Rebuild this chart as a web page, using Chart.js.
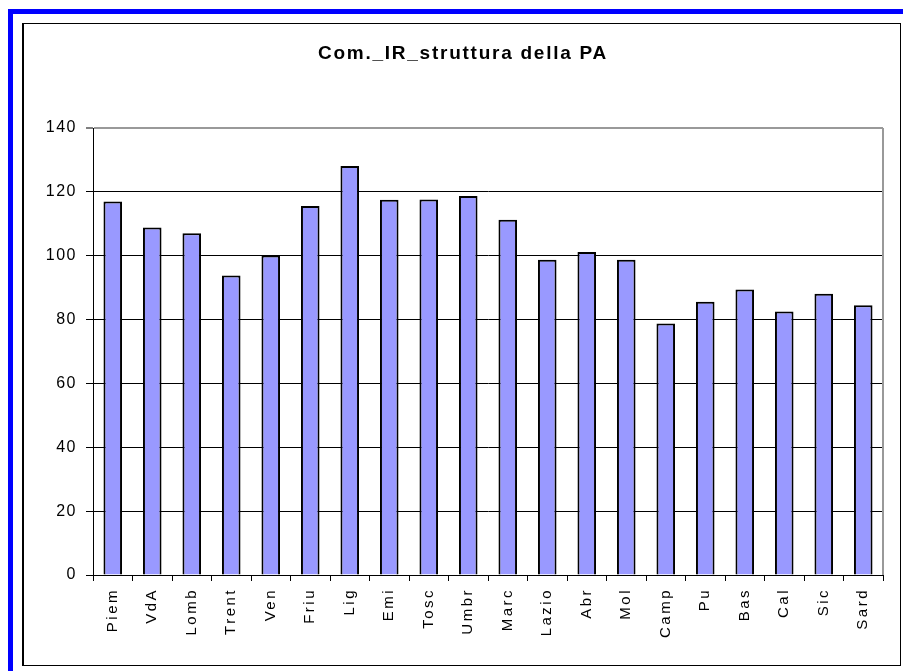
<!DOCTYPE html>
<html>
<head>
<meta charset="utf-8">
<script src="https://cdn.jsdelivr.net/npm/chart.js@4.4.1/dist/chart.umd.min.js"></script>
<style>
    body { margin: 0; background: #fff; }
    #blue { position: absolute; left: 8px; top: 9px; width: 895px; height: 662px;
            border-left: 5px solid #0000ff; border-top: 5px solid #0000ff; box-sizing: border-box; }
    #frame { position: absolute; left: 22px; top: 23px; width: 879px; height: 643px;
             border: 1px solid #000; border-left-width: 2px; box-sizing: border-box; }
    canvas { position: absolute; left: 0; top: 0; }
</style>
</head>
<body>
<div id="blue"></div>
<div id="frame"></div>
<canvas id="chart" width="903" height="671"></canvas>
<script>
const regions = ["Piem", "VdA", "Lomb", "Trent", "Ven", "Friu", "Lig", "Emi", "Tosc", "Umbr",
                 "Marc", "Lazio", "Abr", "Mol", "Camp", "Pu", "Bas", "Cal", "Sic", "Sard"];
const values = [117, 108.8, 107, 93.8, 100.1, 115.6, 128.1, 117.5, 117.6, 118.7,
                111.3, 98.7, 101.2, 98.7, 78.8, 85.6, 89.4, 82.5, 88.1, 84.5];
const yTicks = [0, 20, 40, 60, 80, 100, 120, 140];

const FONT = 'Liberation Sans, Arial, sans-serif';

// draw a box's text with some letter spacing (the original text is wider than Arial)
function spaced(obj, method, spacing) {
    if (!obj || obj['_sp_' + method]) return;
    const orig = obj[method];
    obj[method] = function (...args) {
        const c = this.ctx;
        const prev = c.letterSpacing;
        c.letterSpacing = spacing;
        orig.apply(this, args);
        c.letterSpacing = prev;
    };
    obj['_sp_' + method] = true;
}

const excelLook = {
    id: 'excelLook',
    afterLayout(chart) {
        spaced(chart.titleBlock, 'draw', '1.75px');
        spaced(chart.scales.y, 'drawLabels', '1.5px');
        spaced(chart.scales.x, 'drawLabels', '2.5px');
    },
    // gray right border of the plot area
    afterDraw(chart) {
        const a = chart.chartArea;
        const ctx = chart.ctx;
        ctx.save();
        ctx.strokeStyle = '#999999';
        ctx.lineWidth = 2;
        ctx.beginPath();
        ctx.moveTo(a.right, a.top);
        ctx.lineTo(a.right, a.bottom);
        ctx.stroke();
        ctx.restore();
    }
};

const ctx = document.getElementById('chart').getContext('2d');
new Chart(ctx, {
    type: 'bar',
    data: {
        labels: regions,
        datasets: [{
            data: values,
            backgroundColor: '#9999ff',
            borderColor: '#000000',
            borderWidth: 2,
            barPercentage: 0.47,
            categoryPercentage: 1
        }]
    },
    options: {
        responsive: false,
        animation: false,
        layout: { padding: { left: 43, right: 20, top: 0, bottom: 0 } },
        plugins: {
            legend: { display: false },
            tooltip: { enabled: false },
            title: {
                display: true,
                text: 'Com._IR_struttura della PA',
                color: '#000',
                font: { family: FONT, size: 19, weight: 'bold' },
                padding: { top: 42.6, bottom: 62.6 }
            }
        },
        scales: {
            x: {
                grid: { drawOnChartArea: false, drawTicks: true, tickLength: 6, color: '#000', offset: true },
                border: { color: '#000', width: 1 },
                ticks: {
                    color: '#000',
                    minRotation: 90,
                    maxRotation: 90,
                    padding: 7,
                    font: { family: FONT, size: 15 }
                },
                afterFit: (scale) => { scale.height = 96; }
            },
            y: {
                min: 0,
                max: 140,
                afterBuildTicks: (scale) => { scale.ticks = yTicks.map(v => ({ value: v })); },
                grid: {
                    color: (c) => c.tick && c.tick.value === 140 ? '#999999' : '#000000',
                    lineWidth: (c) => c.tick && c.tick.value === 140 ? 2 : 1,
                    tickColor: '#000',
                    tickWidth: 1,
                    tickLength: 7
                },
                border: { color: '#000', width: 1 },
                ticks: {
                    color: '#000',
                    padding: 9,
                    font: { family: FONT, size: 16 }
                },
                afterFit: (scale) => { scale.width = 50; }
            }
        }
    },
    plugins: [excelLook]
});
</script>
</body>
</html>
